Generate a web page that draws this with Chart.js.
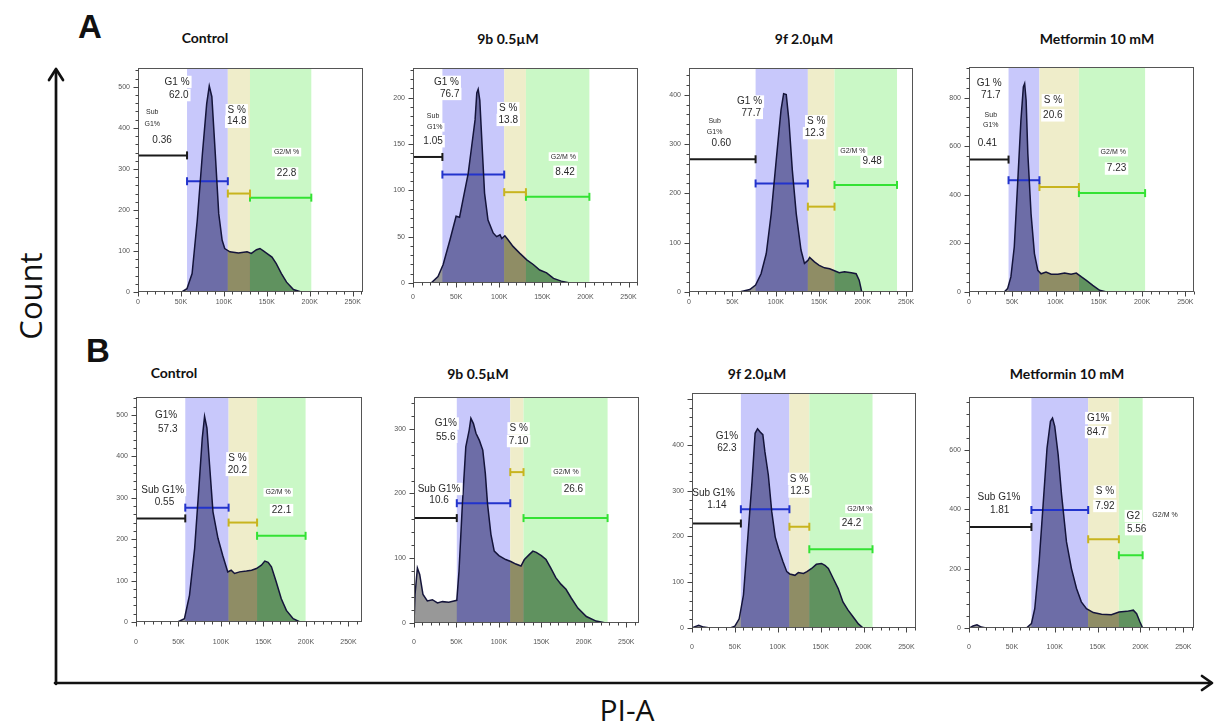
<!DOCTYPE html>
<html><head><meta charset="utf-8">
<script src="https://cdn.jsdelivr.net/npm/chart.js@4.4.1/dist/chart.umd.min.js"></script>
<style>
html,body{margin:0;padding:0;background:#fff;width:1216px;height:723px;overflow:hidden;}
#wrap{position:relative;width:1216px;height:723px;}
#wrap canvas{position:absolute;}
#deco{position:absolute;left:0;top:0;}
</style></head><body><div id="wrap">
<svg id="deco" width="1216" height="723" xmlns="http://www.w3.org/2000/svg">
  <g stroke="#111" stroke-width="2.7" fill="none" stroke-linecap="round" stroke-linejoin="round">
    <line x1="56" y1="71" x2="56" y2="684"/>
    <polyline points="49,80 56,69 63,80"/>
    <line x1="55" y1="683" x2="1211" y2="683"/>
    <polyline points="1202,676 1212,683 1202,690"/>
  </g>
  <text x="78" y="38" font-family="Liberation Sans, Arial, sans-serif" font-weight="700" font-size="33" fill="#111">A</text>
  <text x="86" y="362" font-family="Liberation Sans, Arial, sans-serif" font-weight="700" font-size="33" fill="#111">B</text>
  <text transform="translate(42,296) rotate(-90)" text-anchor="middle" font-family="Open Sans, sans-serif" font-size="31" fill="#111">Count</text>
  <text x="627" y="721" text-anchor="middle" font-family="Open Sans, sans-serif" font-size="30" fill="#111">PI-A</text>
  <g id="titles" font-family="Lato, Open Sans, sans-serif" font-weight="700" font-size="14" fill="#111" text-anchor="middle"></g>
</svg>
</div>
<script>
// ---------------- DATA ----------------
const titlesA = ['Control', '9b 0.5\u00b5M', '9f 2.0\u00b5M', 'Metformin 10 mM'];
const titlesB = ['Control', '9b 0.5\u00b5M', '9f 2.0\u00b5M', 'Metformin 10 mM'];
const phaseNames = ['Sub G1', 'G1', 'S', 'G2/M'];

// PI-A (K) and Count for each histogram
const A1_pi    = [51,57,63,69,75,80,83,86,90,94,98,101,107,117,127,132,138,142,146,150,156,161,167,173,181,190];
const A1_count = [0,8,45,175,337,459,502,476,337,191,126,106,98,95,98,94,103,106,100,94,85,69,45,24,6,0];
const A1_bands = [57.1,104.6,130.4,201.8];   // G1 start, G1 end, S end, G2/M end (K)
const A1_gates = [333,270,240,230];          // gate heights: Sub G1, G1, S, G2/M
const A1_pct   = ['0.36','62.0','14.8','22.8'];

const A2_pi    = [21,29,35,43,50,54,58,64,68,72,74,75.6,77.5,80.6,83,87,93,97,101,103,106.6,110,116,124,132,139.5,147,155,163,172,182];
const A2_count = [0,7,20,47,72,71,90,118,147,176,205,209,197,140,97,68,54,50,52,48,51,47,39.5,32,25,20,14,11,5,2,0];
const A2_bands = [34.1,105.8,131,204.6];
const A2_gates = [136,117,98,93];
const A2_pct   = ['1.05','76.7','13.8','8.42'];

const A3_pi    = [58,70,76.7,83,89,94.7,100.5,106,109,112,115,119,123.5,129,133,137,139,144.5,150,156,162,167.6,173,179,187,192.5,196,199];
const A3_count = [0,5,14,37,78,159,268,369,402,400,349,247,159,85,58,64,70,61,54,49,47,43,39,41,39,37,24,0];
const A3_bands = [76.7,136.9,167.6,239.6];
const A3_gates = [269,220,173,217];
const A3_pct   = ['0.60','77.7','12.3','9.48'];

const A4_pi    = [40.7,44.6,48.4,52.3,56,60,62.8,64.3,66,68,71.7,75.6,79.5,83.3,89,95,102.7,110.5,118,124,130,135.6,143,151,159];
const A4_count = [0,14,62,185,432,707,844,858,789,569,322,158,89,75,82,73,73,78,73,78,62,48,27,7,0];
const A4_bands = [45.7,81.4,127,203.5];
const A4_gates = [545,460,432,407];
const A4_pct   = ['0.41','71.7','20.6','7.23'];

const B1_pi    = [49,57,63,69,74,78,80.7,83.5,86.6,90.6,96.5,102,108,112,116,122,130,136,141.7,147.6,151.6,155.5,159.4,165,171,177,185,193];
const B1_count = [0,8,65,177,323,444,496,468,379,266,202,161,121,125,117,121,123,125,129,137,147,144,133,97,56,28,8,0];
const B1_bands = [58,109,142.5,199.6];
const B1_gates = [250,276,240,208];
const B1_pct   = ['0.55','57.3','20.2','22.1'];

const B2_pi    = [0,1.2,4,6.7,10.6,15.7,21.7,27.6,33.5,41,47,50.4,53,57,61,65,67,70,73,77,81,84,86.6,90.6,94.5,100,108,114,120,126,130,136,140,144,150,155.5,161,167,173,179,185,193,203,214.5,226];
const B2_count = [0,44,85,75,44,34,36,31,33,32,34,35,80,184,272,298,316,308,293,282,267,231,184,137,111,104,98,95,91,88,98,106,111,109,104,98,85,70,60,52,39,23,10,3,0];
const B2_bands = [50.4,113.4,129,228];
const B2_gates = [162,185,233,162];
const B2_pct   = ['10.6','55.6','7.10','26.6'];

const B3_pi    = [0,2,7.8,13.6,21,44.6,50,55,60,64.7,70,73.6,76.4,79.5,82.6,85,89,93,97,100.8,106,110.5,114,120,124,130,134,139.5,145,151,155,159,164.7,170.5,176,182,188,194,199.6];
const B3_count = [0,2,6,2,0,0,4,20,72,188,320,425,435,428,422,385,334,254,199,174,145,123,118,115,121,119,123,130,139,141,137,130,108,86,57,39,24,9,0];
const B3_bands = [57,113.6,136.8,210.5];
const B3_gates = [228,259,221,172];
const B3_pct   = ['1.14','62.3','12.5','24.2'];

const B4_pi    = [0.8,4.7,9.3,14.4,20,67,72.8,76.7,81.8,86.4,91,95,97.4,100,104,108,113.7,119.5,125.4,131,137,145,154.6,166,175,184,191.6,195.5,199.4,202.5];
const B4_count = [0,7,11,3,0,0,15,65,223,414,606,696,707,679,583,448,290,200,133,88,65,52,46,45,54,56,60,48,20,0];
const B4_bands = [72.8,139,174.8,202.5];
const B4_gates = [340,397,299,245];
const B4_pct   = ['1.81','84.7','7.92','5.56'];

// ---------------- LAYOUT (positions / styles) ----------------
const panelLayout = [
  {frame:{l:138,t:68,r:363,b:292}, xmax:262, ymax:546, yMajor:100, yMinor:20, yLabelMax:500, gap:10, title:[205,43]},
  {frame:{l:413,t:68,r:638,b:283}, xmax:261, ymax:232, yMajor:50,  yMinor:10, yLabelMax:200, gap:14, title:[508,44]},
  {frame:{l:689,t:68,r:913,b:292}, xmax:258, ymax:454, yMajor:100, yMinor:20, yLabelMax:400, gap:10, title:[804,44]},
  {frame:{l:969,t:67,r:1194,b:292},xmax:260, ymax:926, yMajor:200, yMinor:40, yLabelMax:800, gap:10, title:[1097,44]},
  {frame:{l:136,t:397,r:362,b:622},xmax:266, ymax:543, yMajor:100, yMinor:20, yLabelMax:500, gap:20, title:[174,378]},
  {frame:{l:414,t:397,r:639,b:623},xmax:265, ymax:349, yMajor:100, yMinor:20, yLabelMax:300, gap:19, title:[478,379]},
  {frame:{l:692,t:393,r:917,b:628},xmax:261, ymax:513, yMajor:100, yMinor:20, yLabelMax:400, gap:19, title:[757,379]},
  {frame:{l:969,t:397,r:1194,b:628},xmax:262,ymax:778, yMajor:200, yMinor:40, yLabelMax:600, gap:19, title:[1067,379]}
];
// label placement [text, x(K), y(count), fontSize]
const labelLayout = [
  p=>[['G1 %',45.5,512,10],[p[1],47.5,480,10],['Sub',16.6,439,7],['G1%',16.6,410,7],[p[0],28,370,10],['S %',115,443,10],[p[2],115,415,10],['G2/M %',173,341,7],[p[3],173,289,10]],
  p=>[['G1 %',38.8,217,10],[p[1],42.6,204,10],['Sub',23.3,180,7],['G1%',25.2,168,7],[p[0],23.3,153,10],['S %',110.5,188.5,10],[p[2],110.5,176,10],['G2/M %',174.4,136.4,7],[p[3],176.4,120,10]],
  p=>[['G1 %',69.8,386,10],[p[1],71.7,363,10],['Sub',29.5,346,7],['G1%',29.5,325,7],[p[0],37.2,302,10],['S %',146.5,346,10],[p[2],144.6,322,10],['G2/M %',188.7,285,7],[p[3],210.9,264,10]],
  p=>[['G1 %',23.3,858,10],[p[1],25.2,810,10],['Sub',25.2,727,7],['G1%',25.2,686,7],[p[0],21.3,613,10],['S %',96.9,789,10],[p[2],96.9,727,10],['G2/M %',166.7,576,7],[p[3],170.5,508,10]],
  p=>[['G1%',35.4,498,10],[p[1],37.4,466,10],['Sub G1%',31.5,318.5,10],[p[0],33.5,290,10],['S %',119.3,395,10],[p[2],119.3,367,10],['G2/M %',167.3,313,7],[p[3],171.3,270,10]],
  p=>[['G1%',37.4,308,10],[p[1],37.4,287.6,10],['Sub G1%',29.5,207,10],[p[0],29.5,189,10],['S %',123.2,300.5,10],[p[2],123.2,281,10],['G2/M %',179,233,7],[p[3],187.8,207,10]],
  p=>[['G1%',40.7,418,10],[p[1],40.7,393,10],['Sub G1%',25.2,294,10],[p[0],29,269,10],['S %',124.8,325.5,10],[p[2],126,298,10],['G2/M %',195.7,260,7],[p[3],186,228.5,10]],
  p=>[['G1%',150.7,707,10],[p[1],148.8,660,10],['Sub G1%',35,442,10],[p[0],35.8,395,10],['S %',158.5,459,10],[p[2],158.5,411,10],['G2',191.6,377,10],['G2/M %',228.6,380,7],[p[3],195.5,333,10]]
];

const panels = [
  [A1_pi,A1_count,A1_bands,A1_gates,A1_pct,titlesA[0]],
  [A2_pi,A2_count,A2_bands,A2_gates,A2_pct,titlesA[1]],
  [A3_pi,A3_count,A3_bands,A3_gates,A3_pct,titlesA[2]],
  [A4_pi,A4_count,A4_bands,A4_gates,A4_pct,titlesA[3]],
  [B1_pi,B1_count,B1_bands,B1_gates,B1_pct,titlesB[0]],
  [B2_pi,B2_count,B2_bands,B2_gates,B2_pct,titlesB[1]],
  [B3_pi,B3_count,B3_bands,B3_gates,B3_pct,titlesB[2]],
  [B4_pi,B4_count,B4_bands,B4_gates,B4_pct,titlesB[3]]
];

// ---------------- STYLES ----------------
const bandLight = ['#c8c8fb','#efedca','#caf8c6'];
const bandDark  = ['#6d6da7','#8f8d65','#60925f'];
const outsideFill = '#989898';
const gateColors = ['#1a1a1a','#2233cc','#c8b41e','#33e233'];
const PADL = 40, PADT = 8, PADR = 8;

Chart.defaults.font.family = 'Liberation Sans, Arial, sans-serif';

const facsPlugin = {
  id: 'facs',
  beforeDatasetsDraw(chart) {
    const o = chart.options.plugins.facs;
    const ctx = chart.ctx, ca = chart.chartArea, xs = chart.scales.x, ys = chart.scales.y;
    const b = o.bands;
    ctx.save();
    ctx.beginPath(); ctx.rect(ca.left, ca.top, ca.right - ca.left, ca.bottom - ca.top); ctx.clip();
    const edges = [[b[0],b[1]],[b[1],b[2]],[b[2],b[3]]];
    edges.forEach((e,i) => {
      const x0 = xs.getPixelForValue(e[0]), x1 = xs.getPixelForValue(e[1]);
      ctx.fillStyle = bandLight[i];
      ctx.fillRect(x0, ca.top, x1 - x0, ca.bottom - ca.top);
    });
    const pts = chart.getDatasetMeta(0).data;
    const zero = ys.getPixelForValue(0);
    const path = new Path2D();
    path.moveTo(pts[0].x, zero);
    pts.forEach(p => path.lineTo(p.x, p.y));
    path.lineTo(pts[pts.length-1].x, zero);
    path.closePath();
    ctx.fillStyle = outsideFill; ctx.fill(path);
    edges.forEach((e,i) => {
      const x0 = xs.getPixelForValue(e[0]), x1 = xs.getPixelForValue(e[1]);
      ctx.save(); ctx.beginPath(); ctx.rect(x0, ca.top, x1 - x0, ca.bottom - ca.top); ctx.clip();
      ctx.fillStyle = bandDark[i]; ctx.fill(path); ctx.restore();
    });
    ctx.restore();
  },
  afterDatasetsDraw(chart) {
    const o = chart.options.plugins.facs;
    const ctx = chart.ctx, xs = chart.scales.x, ys = chart.scales.y, ca = chart.chartArea;
    ctx.save();
    ctx.textAlign = 'center'; ctx.textBaseline = 'middle';
    o.labels.forEach(([t,x,y,s]) => {
      ctx.font = s + 'px "Liberation Sans", Arial, sans-serif';
      const w = ctx.measureText(t).width;
      const px = xs.getPixelForValue(x), py = ys.getPixelForValue(y);
      ctx.fillStyle = '#ffffff';
      ctx.fillRect(px - w/2 - 2, py - s*0.62, w + 4, s*1.24);
      ctx.fillStyle = '#2a2a2a';
      ctx.fillText(t, px, py);
    });
    // frame
    ctx.strokeStyle = '#555'; ctx.lineWidth = 1;
    const L = Math.round(ca.left)+0.5, T = Math.round(ca.top)+0.5, R = Math.round(ca.right)-0.5, B = Math.round(ca.bottom)-0.5;
    ctx.strokeRect(L, T, R - L, B - T);
    // ticks
    ctx.strokeStyle = '#444';
    xs.ticks.forEach(t => {
      const px = Math.round(xs.getPixelForValue(t.value)) + 0.5;
      const len = (t.value % 50 === 0) ? 5 : 3;
      ctx.beginPath(); ctx.moveTo(px, B); ctx.lineTo(px, B + len); ctx.stroke();
    });
    ys.ticks.forEach(t => {
      const py = Math.round(ys.getPixelForValue(t.value)) + 0.5;
      const len = (t.value % o.yMajor === 0) ? 5 : 3;
      ctx.beginPath(); ctx.moveTo(L, py); ctx.lineTo(L - len, py); ctx.stroke();
    });
    ctx.restore();
  }
};

const wrap = document.getElementById('wrap');
const titleGroup = document.getElementById('titles');

panels.forEach((pn, idx) => {
  const [pi, count, bands, gates, pct, title] = pn;
  const lay = panelLayout[idx];
  const f = lay.frame;
  const AXH = lay.gap + 12;
  const cv = document.createElement('canvas');
  const W = (f.r - f.l) + PADL + PADR, H = (f.b - f.t) + PADT + AXH;
  cv.width = W; cv.height = H;
  cv.style.left = (f.l - PADL) + 'px'; cv.style.top = (f.t - PADT) + 'px';
  cv.style.width = W + 'px'; cv.style.height = H + 'px';
  wrap.appendChild(cv);

  const tx = document.createElementNS('http://www.w3.org/2000/svg','text');
  tx.setAttribute('x', lay.title[0]); tx.setAttribute('y', lay.title[1]);
  tx.textContent = title; titleGroup.appendChild(tx);

  const hist = pi.map((x,i) => ({x:x, y:count[i]}));
  const spans = [[0,bands[0]],[bands[0],bands[1]],[bands[1],bands[2]],[bands[2],bands[3]]];
  const gateSets = spans.map((s,i) => ({
    label: phaseNames[i],
    data: [{x:s[0], y:gates[i]}, {x:s[1], y:gates[i]}],
    borderColor: gateColors[i], borderWidth: 2,
    pointStyle: 'line', pointRotation: 90, pointRadius: 4,
    pointBorderColor: gateColors[i], pointBorderWidth: 2, fill: false
  }));

  new Chart(cv, {
    type: 'line',
    data: { datasets: [
      { label: 'Count', data: hist, borderColor: '#14143a', borderWidth: 1.5, pointRadius: 0, fill: false, tension: 0 },
      ...gateSets
    ]},
    options: {
      responsive: false, maintainAspectRatio: false, animation: false, events: [],
      layout: { padding: { top: PADT, right: PADR, left: 0, bottom: 0 } },
      plugins: {
        legend: { display: false }, tooltip: { enabled: false }, title: { display: false },
        facs: { bands: bands, labels: labelLayout[idx](pct), yMajor: lay.yMajor }
      },
      scales: {
        x: {
          type: 'linear', min: 0, max: lay.xmax,
          afterFit(s) { s.height = AXH; },
          afterBuildTicks(s) { const t = []; for (let v = 0; v <= lay.xmax; v += 10) t.push({value: v}); s.ticks = t; },
          ticks: { autoSkip: false, maxRotation: 0, minRotation: 0, padding: lay.gap - 9, color: '#555', font: { size: 7 },
                   callback: v => (v % 50 === 0 ? (v === 0 ? '0' : v + 'K') : '') },
          grid: { display: false, drawTicks: true, tickLength: 5 },
          border: { display: false }
        },
        y: {
          type: 'linear', min: 0, max: lay.ymax,
          afterFit(s) { s.width = PADL; },
          afterBuildTicks(s) { const t = []; for (let v = 0; v <= lay.ymax; v += lay.yMinor) t.push({value: v}); s.ticks = t; },
          ticks: { autoSkip: false, padding: 3, color: '#555', font: { size: 7 },
                   callback: v => (v % lay.yMajor === 0 && v <= lay.yLabelMax ? String(v) : '') },
          grid: { display: false, drawTicks: true, tickLength: 5 },
          border: { display: false }
        }
      }
    },
    plugins: [facsPlugin]
  });
});
</script>
</body></html>
